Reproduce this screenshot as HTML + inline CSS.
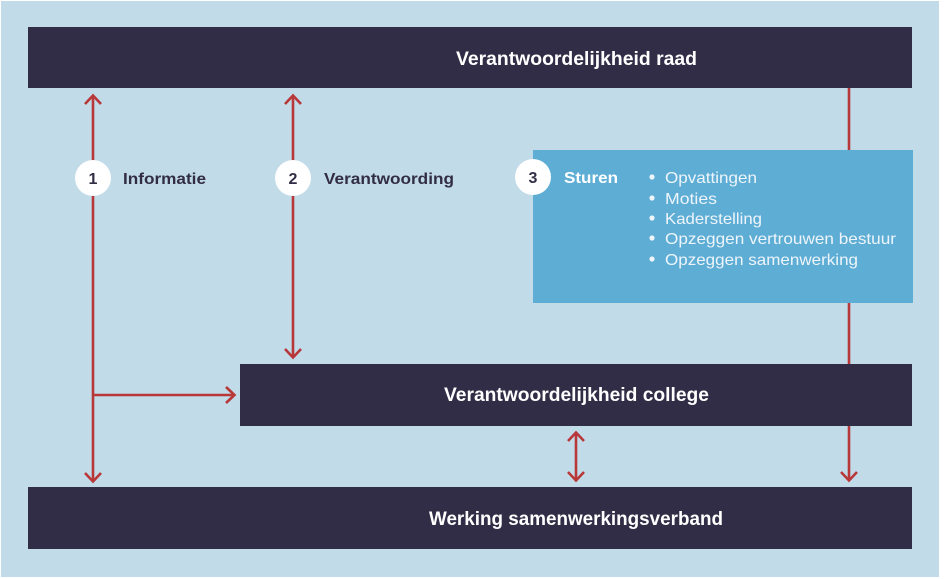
<!DOCTYPE html>
<html><head><meta charset="utf-8"><style>
html,body{margin:0;padding:0;background:#fff;}
svg{display:block;}
</style></head><body>
<svg width="946" height="579" viewBox="0 0 946 579" xmlns="http://www.w3.org/2000/svg">
<rect x="1" y="1" width="938" height="576" fill="#c2dbe8"/>
<!-- boxes -->
<rect x="28" y="27" width="884" height="61" fill="#322d46"/>
<rect x="533" y="150" width="380" height="153" fill="#5eadd5"/>
<rect x="240" y="364" width="672" height="62" fill="#322d46"/>
<rect x="28" y="487" width="884" height="62" fill="#322d46"/>
<!-- connectors -->
<g stroke="#b8383a" stroke-width="2.6" fill="none" stroke-linecap="butt" stroke-linejoin="miter">
  <line x1="93" y1="96" x2="93" y2="481"/>
  <polyline points="85,104 93,95.5 101,104"/>
  <polyline points="85,473 93,481.5 101,473"/>
  <line x1="93" y1="395" x2="234" y2="395"/>
  <polyline points="226,387 234.5,395 226,403"/>
  <line x1="293" y1="96" x2="293" y2="357"/>
  <polyline points="285,104 293,95.5 301,104"/>
  <polyline points="285,349 293,357.5 301,349"/>
  <line x1="849" y1="88" x2="849" y2="150"/>
  <line x1="849" y1="303" x2="849" y2="364"/>
  <line x1="849" y1="426" x2="849" y2="480"/>
  <polyline points="841,472 849,480.5 857,472"/>
  <line x1="576" y1="433" x2="576" y2="480"/>
  <polyline points="568,441 576,432.5 584,441"/>
  <polyline points="568,472 576,480.5 584,472"/>
</g>
<!-- circles -->
<g fill="#ffffff">
  <circle cx="93" cy="178" r="18"/>
  <circle cx="293" cy="178" r="18"/>
  <circle cx="533" cy="177" r="18"/>
</g>
<g font-family="Liberation Sans, Arial, sans-serif" font-weight="bold" fill="#322d46" font-size="16">
  <text x="93" y="184" text-anchor="middle">1</text>
  <text x="293" y="184" text-anchor="middle">2</text>
  <text x="533" y="183" text-anchor="middle">3</text>
  <text x="123" y="184" textLength="83" lengthAdjust="spacingAndGlyphs">Informatie</text>
  <text x="324" y="184" textLength="130" lengthAdjust="spacingAndGlyphs">Verantwoording</text>
</g>
<g font-family="Liberation Sans, Arial, sans-serif" font-weight="bold" fill="#ffffff" font-size="19">
  <text x="456" y="65" textLength="241" lengthAdjust="spacingAndGlyphs">Verantwoordelijkheid raad</text>
  <text x="444" y="401" textLength="265" lengthAdjust="spacingAndGlyphs">Verantwoordelijkheid college</text>
  <text x="429" y="525" textLength="294" lengthAdjust="spacingAndGlyphs">Werking samenwerkingsverband</text>
</g>
<text x="564" y="183" font-family="Liberation Sans, Arial, sans-serif" font-weight="bold" fill="#ffffff" font-size="16" textLength="54" lengthAdjust="spacingAndGlyphs">Sturen</text>
<g fill="#eef5fa">
  <circle cx="652" cy="177" r="2.6"/>
  <circle cx="652" cy="198" r="2.6"/>
  <circle cx="652" cy="218" r="2.6"/>
  <circle cx="652" cy="238" r="2.6"/>
  <circle cx="652" cy="259" r="2.6"/>
</g>
<g font-family="Liberation Sans, Arial, sans-serif" fill="#eef5fa" font-size="16">
  <text x="665" y="183" textLength="92" lengthAdjust="spacingAndGlyphs">Opvattingen</text>
  <text x="665" y="204" textLength="52" lengthAdjust="spacingAndGlyphs">Moties</text>
  <text x="665" y="224" textLength="97" lengthAdjust="spacingAndGlyphs">Kaderstelling</text>
  <text x="665" y="244" textLength="231" lengthAdjust="spacingAndGlyphs">Opzeggen vertrouwen bestuur</text>
  <text x="665" y="265" textLength="193" lengthAdjust="spacingAndGlyphs">Opzeggen samenwerking</text>
</g>
</svg>
</body></html>
